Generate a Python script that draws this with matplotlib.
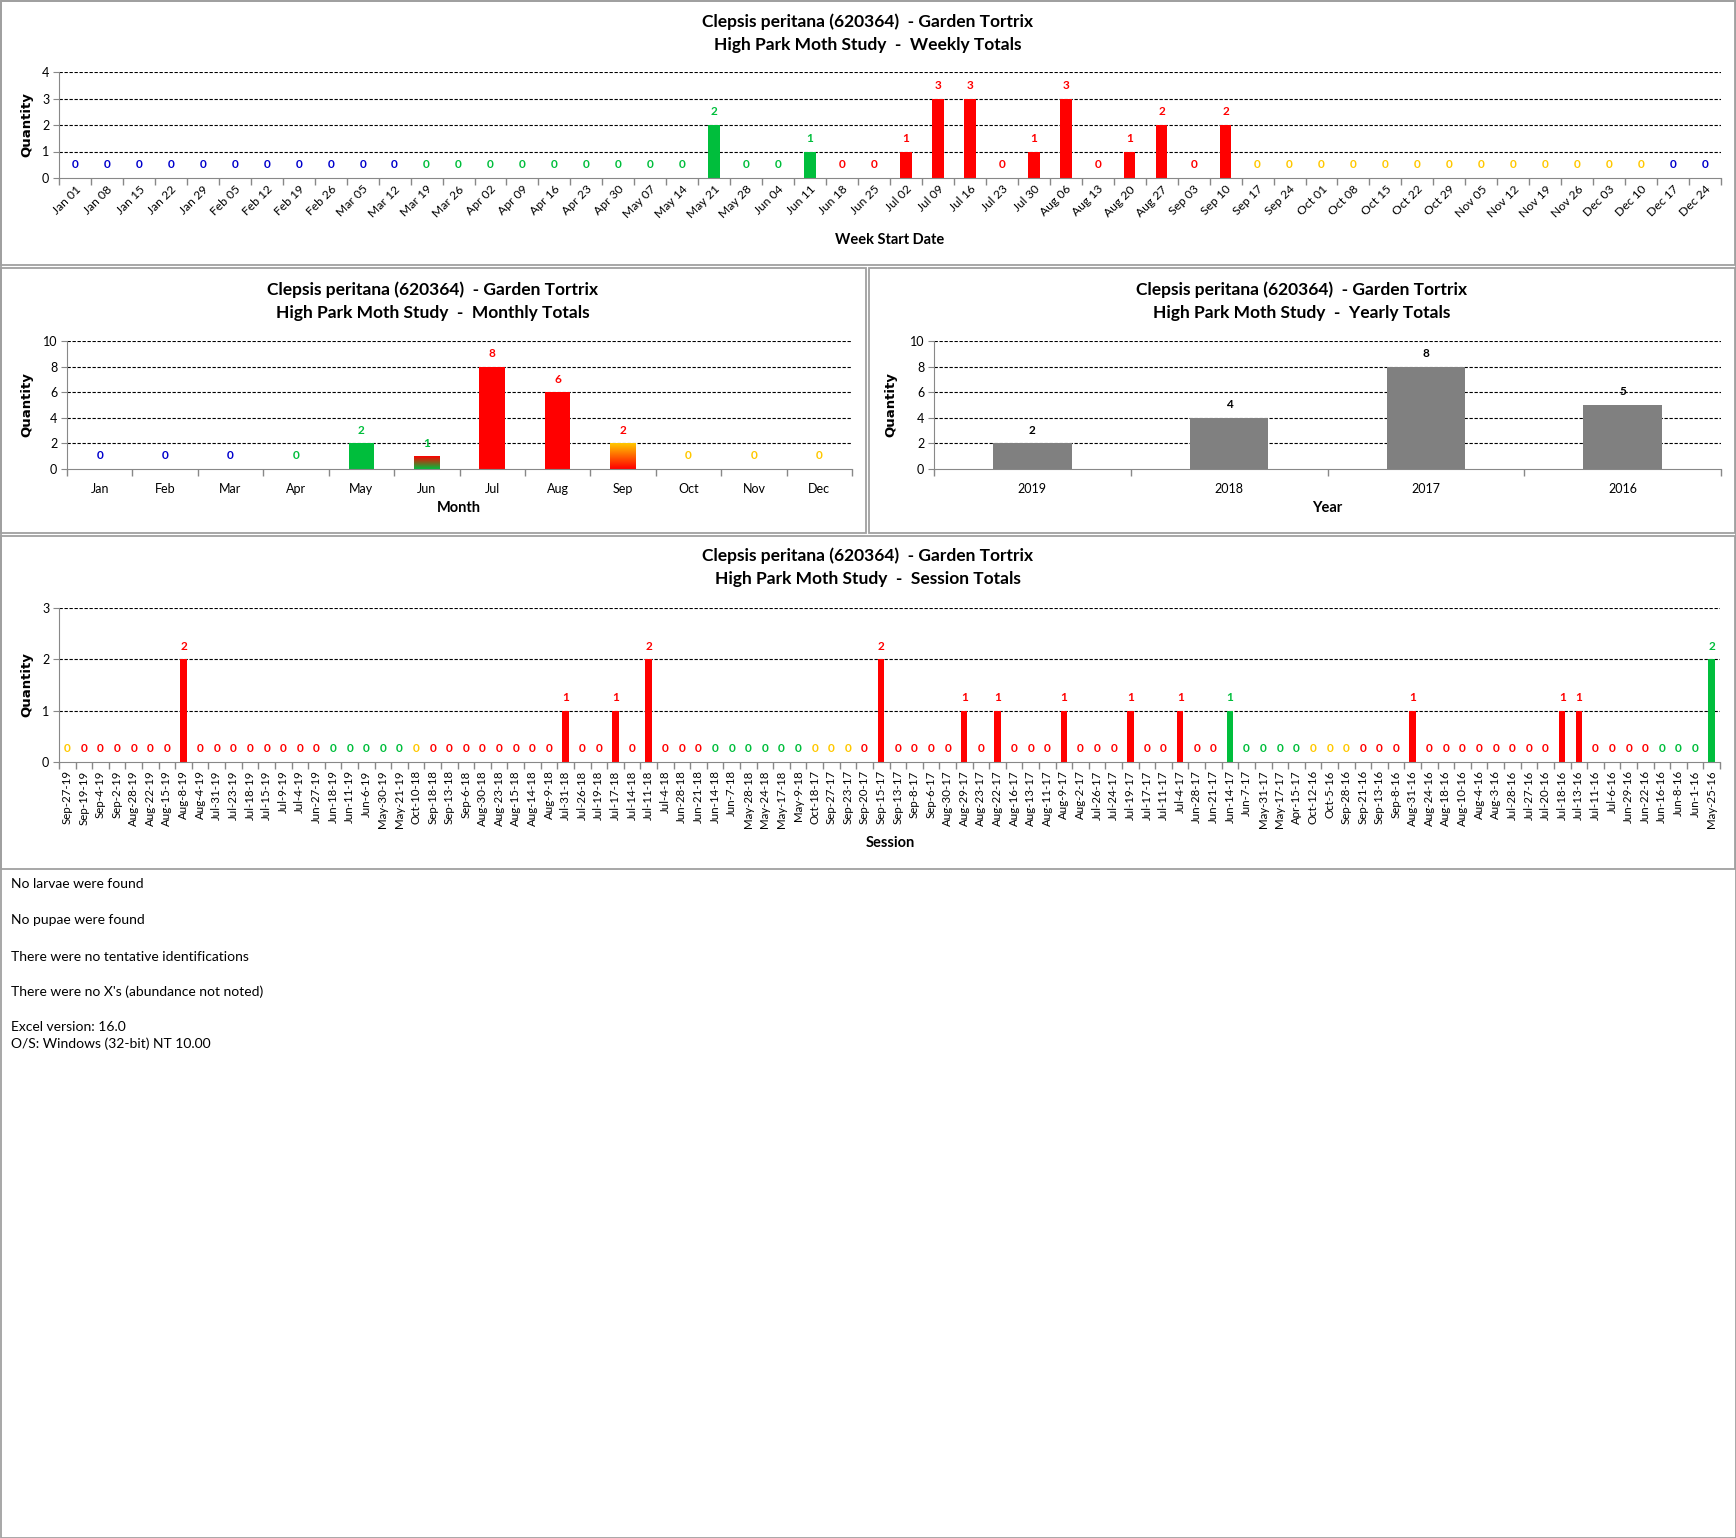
import datetime as dt
import numpy as np
import matplotlib
matplotlib.use('Agg')
import matplotlib.pyplot as plt
from matplotlib.patches import Rectangle
from matplotlib.colors import to_rgb

plt.rcParams['font.family'] = ['Lato', 'DejaVu Sans']

W, H = 1736, 1538

title1 = 'Clepsis peritana (620364)  - Garden Tortrix'
title2 = 'High Park Moth Study  -  {} Totals'

week_labels = ['Jan 01', 'Jan 08', 'Jan 15', 'Jan 22', 'Jan 29', 'Feb 05', 'Feb 12', 'Feb 19',
               'Feb 26', 'Mar 05', 'Mar 12', 'Mar 19', 'Mar 26', 'Apr 02', 'Apr 09', 'Apr 16',
               'Apr 23', 'Apr 30', 'May 07', 'May 14', 'May 21', 'May 28', 'Jun 04', 'Jun 11',
               'Jun 18', 'Jun 25', 'Jul 02', 'Jul 09', 'Jul 16', 'Jul 23', 'Jul 30', 'Aug 06',
               'Aug 13', 'Aug 20', 'Aug 27', 'Sep 03', 'Sep 10', 'Sep 17', 'Sep 24', 'Oct 01',
               'Oct 08', 'Oct 15', 'Oct 22', 'Oct 29', 'Nov 05', 'Nov 12', 'Nov 19', 'Nov 26',
               'Dec 03', 'Dec 10', 'Dec 17', 'Dec 24']
week_totals = [0, 0, 0, 0, 0, 0, 0, 0, 0, 0, 0, 0, 0, 0, 0, 0, 0, 0, 0, 0,
               2, 0, 0, 1, 0, 0, 1, 3, 3, 0, 1, 3, 0, 1, 2, 0, 2, 0, 0, 0,
               0, 0, 0, 0, 0, 0, 0, 0, 0, 0, 0, 0]

month_labels = ['Jan', 'Feb', 'Mar', 'Apr', 'May', 'Jun', 'Jul', 'Aug', 'Sep', 'Oct', 'Nov', 'Dec']
month_totals = [0, 0, 0, 0, 2, 1, 8, 6, 2, 0, 0, 0]

year_labels = ['2019', '2018', '2017', '2016']
year_totals = [2, 4, 8, 5]

session_labels = ['Sep-27-19', 'Sep-19-19', 'Sep-4-19', 'Sep-2-19', 'Aug-28-19', 'Aug-22-19',
                  'Aug-15-19', 'Aug-8-19', 'Aug-4-19', 'Jul-31-19', 'Jul-23-19', 'Jul-18-19',
                  'Jul-15-19', 'Jul-9-19', 'Jul-4-19', 'Jun-27-19', 'Jun-18-19', 'Jun-11-19',
                  'Jun-6-19', 'May-30-19', 'May-21-19', 'Oct-10-18', 'Sep-18-18', 'Sep-13-18',
                  'Sep-6-18', 'Aug-30-18', 'Aug-23-18', 'Aug-15-18', 'Aug-14-18', 'Aug-9-18',
                  'Jul-31-18', 'Jul-26-18', 'Jul-19-18', 'Jul-17-18', 'Jul-14-18', 'Jul-11-18',
                  'Jul-4-18', 'Jun-28-18', 'Jun-21-18', 'Jun-14-18', 'Jun-7-18', 'May-28-18',
                  'May-24-18', 'May-17-18', 'May-9-18', 'Oct-18-17', 'Sep-27-17', 'Sep-23-17',
                  'Sep-20-17', 'Sep-15-17', 'Sep-13-17', 'Sep-8-17', 'Sep-6-17', 'Aug-30-17',
                  'Aug-29-17', 'Aug-23-17', 'Aug-22-17', 'Aug-16-17', 'Aug-13-17', 'Aug-11-17',
                  'Aug-9-17', 'Aug-2-17', 'Jul-26-17', 'Jul-24-17', 'Jul-19-17', 'Jul-17-17',
                  'Jul-11-17', 'Jul-4-17', 'Jun-28-17', 'Jun-21-17', 'Jun-14-17', 'Jun-7-17',
                  'May-31-17', 'May-17-17', 'Apr-15-17', 'Oct-12-16', 'Oct-5-16', 'Sep-28-16',
                  'Sep-21-16', 'Sep-13-16', 'Sep-8-16', 'Aug-31-16', 'Aug-24-16', 'Aug-18-16',
                  'Aug-10-16', 'Aug-4-16', 'Aug-3-16', 'Jul-28-16', 'Jul-27-16', 'Jul-20-16',
                  'Jul-18-16', 'Jul-13-16', 'Jul-11-16', 'Jul-6-16', 'Jun-29-16', 'Jun-22-16',
                  'Jun-16-16', 'Jun-8-16', 'Jun-1-16', 'May-25-16']
session_totals = [0, 0, 0, 0, 0, 0, 0, 2, 0, 0, 0, 0, 0, 0, 0, 0, 0, 0, 0, 0,
                  0, 0, 0, 0, 0, 0, 0, 0, 0, 0, 1, 0, 0, 1, 0, 2, 0, 0, 0, 0,
                  0, 0, 0, 0, 0, 0, 0, 0, 0, 2, 0, 0, 0, 0, 1, 0, 1, 0, 0, 0,
                  1, 0, 0, 0, 1, 0, 0, 1, 0, 0, 1, 0, 0, 0, 0, 0, 0, 0, 0, 0,
                  0, 1, 0, 0, 0, 0, 0, 0, 0, 0, 1, 1, 0, 0, 0, 0, 0, 0, 0, 2]

notes = ['No larvae were found', 'No pupae were found', 'There were no tentative identifications',
         "There were no X's (abundance not noted)", 'Excel version: 16.0',
         'O/S: Windows (32-bit) NT 10.00']

season_colors = {'winter': '#0000CC', 'spring': '#00BE3C', 'summer': '#FF0000', 'fall': '#FFC800'}


def season(d):
    md = (d.month, d.day)
    if md >= (12, 21) or md < (3, 20):
        return 'winter'
    if md < (6, 21):
        return 'spring'
    if md < (9, 22):
        return 'summer'
    return 'fall'


week_seasons = [season(dt.datetime.strptime(s + ' 2018', '%b %d %Y') + dt.timedelta(days=6))
                for s in week_labels]
session_seasons = [season(dt.datetime.strptime(s, '%b-%d-%y')) for s in session_labels]
month_start = [season(dt.date(2018, m, 1)) for m in range(1, 13)]
month_end = [season(dt.date(2018, m, 28) + dt.timedelta(days=3)) if m < 12 else season(dt.date(2018, 12, 31))
             for m in range(1, 13)]

fig = plt.figure(figsize=(W / 100, H / 100), dpi=100)
GRAY = '#888888'


def add_ax(l, t, r, b):
    return fig.add_axes([l / W, 1 - b / H, (r - l) / W, (b - t) / H])


def panel(x0, y0, x1, y1):
    fig.patches.append(Rectangle((x0 / W, 1 - y1 / H), (x1 - x0) / W, (y1 - y0) / H,
                                 transform=fig.transFigure, fill=False, ec='#A0A0A0', lw=1.3))


def ftext(x, y, s, **kw):
    fig.text(x / W, 1 - y / H, s, **kw)


def setup(ax, labels, ymax, ystep, rot, pad, size):
    n = len(labels)
    ax.set_xlim(-0.5, n - 0.5)
    ax.set_ylim(0, ymax)
    yt = np.arange(0, ymax + ystep, ystep)
    ax.set_yticks(yt)
    for y in yt[1:]:
        ax.axhline(y, color='black', lw=0.8, ls=(0, (3, 1.5)), zorder=0.5)
    for s in ['top', 'right']:
        ax.spines[s].set_visible(False)
    for s in ['left', 'bottom']:
        ax.spines[s].set_color(GRAY)
        ax.spines[s].set_zorder(5)
    ax.set_xticks(range(n))
    if rot == 45:
        ax.set_xticklabels(labels, rotation=45, ha='right', va='top', rotation_mode='anchor', fontsize=size)
    elif rot == 90:
        ax.set_xticklabels(labels, rotation=90, ha='center', va='top', fontsize=size)
    else:
        ax.set_xticklabels(labels, fontsize=size)
    ax.tick_params(axis='x', which='major', length=0, pad=pad)
    ax.set_xticks(np.arange(n + 1) - 0.5, minor=True)
    ax.tick_params(axis='x', which='minor', length=5, color=GRAY, width=1)
    ax.tick_params(axis='y', length=4, color=GRAY, labelsize=9, pad=3)


def values(ax, vals, colors):
    for i, (v, c) in enumerate(zip(vals, colors)):
        ax.annotate(str(v), (i, v), xytext=(0, 9.5), textcoords='offset points',
                    ha='center', va='center', color=c, fontsize=8.5, fontweight='bold')


def titles(cx, y1, kind):
    ftext(cx, y1, title1, ha='center', va='center', fontsize=12.5, fontweight='bold')
    ftext(cx, y1 + 23, title2.format(kind), ha='center', va='center', fontsize=12.5, fontweight='bold')


def ylab(x, y):
    ftext(x, y, 'Quantity', rotation=90, ha='center', va='center', fontsize=9.5,
          fontweight='bold', family='DejaVu Sans')


# weekly
panel(1, 1, 1735, 265)
ax = add_ax(59, 72, 1721, 178)
wc = [season_colors[s] for s in week_seasons]
ax.bar(range(len(week_totals)), week_totals, width=0.36, color=wc, zorder=2)
setup(ax, week_labels, 4, 1, 45, 4, 8.7)
values(ax, week_totals, wc)
titles(868, 22, 'Weekly')
ftext(890, 240, 'Week Start Date', ha='center', va='center', fontsize=10.5, fontweight='bold')
ylab(27, 125)

# monthly
panel(1, 268, 866, 533)
ax = add_ax(67, 341, 852, 469)
mc = [season_colors[s] for s in month_start]
bars = ax.bar(range(12), month_totals, width=0.39, color=mc, zorder=2)
for b, s0, s1 in zip(bars, month_start, month_end):
    if s0 != s1 and b.get_height() > 0:
        c0, c1 = np.array(to_rgb(season_colors[s0])), np.array(to_rgb(season_colors[s1]))
        t = np.linspace(0, 1, 64)[:, None, None]
        grad = c0 * (1 - t) + c1 * t
        ax.imshow(grad, extent=[b.get_x(), b.get_x() + b.get_width(), 0, b.get_height()],
                  origin='lower', aspect='auto', zorder=2.5)
        b.set_visible(False)
setup(ax, month_labels, 10, 2, 0, 10, 9)
values(ax, month_totals, mc)
titles(433, 290, 'Monthly')
ftext(459, 508, 'Month', ha='center', va='center', fontsize=10.5, fontweight='bold')
ylab(27, 405)

# yearly
panel(869, 268, 1735, 533)
ax = add_ax(934, 341, 1721, 469)
ax.bar(range(4), year_totals, width=0.4, color='#808080', zorder=2)
setup(ax, year_labels, 10, 2, 0, 10, 9)
values(ax, year_totals, ['black'] * 4)
titles(1302, 290, 'Yearly')
ftext(1327, 508, 'Year', ha='center', va='center', fontsize=10.5, fontweight='bold')
ylab(891, 405)

# sessions
panel(1, 536, 1735, 869)
ax = add_ax(59, 608, 1720, 762)
sc = [season_colors[s] for s in session_seasons]
ax.bar(range(len(session_totals)), session_totals, width=0.39, color=sc, zorder=2)
setup(ax, session_labels, 3, 1, 90, 6, 8.3)
values(ax, session_totals, sc)
titles(868, 556, 'Session')
ftext(890, 843, 'Session', ha='center', va='center', fontsize=10.5, fontweight='bold')
ylab(27, 685)

# notes
for s, y in zip(notes, [884, 920, 957, 992, 1027, 1044]):
    ftext(11, y, s, ha='left', va='center', fontsize=10)

panel(0.5, 0.5, 1735.5, 1537.5)

fig.savefig('out.png', dpi=100, facecolor='white')
